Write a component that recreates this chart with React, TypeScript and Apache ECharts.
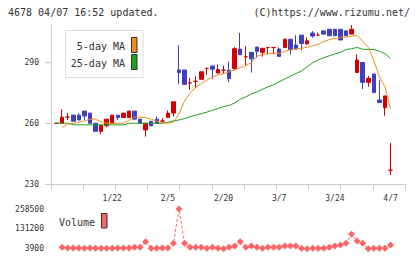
import React, { useEffect, useRef } from "react";
import * as echarts from "echarts";

const dates = ["1/7","1/8","1/9","1/10","1/14","1/15","1/16","1/17","1/20","1/21","1/22","1/23","1/24","1/27","1/28","1/29","1/30","1/31","2/3","2/4","2/5","2/6","2/7","2/10","2/12","2/13","2/14","2/17","2/18","2/19","2/20","2/21","2/25","2/26","2/27","2/28","3/3","3/4","3/5","3/6","3/7","3/10","3/11","3/12","3/13","3/14","3/17","3/18","3/19","3/21","3/24","3/25","3/26","3/27","3/28","3/31","4/1","4/2","4/3","4/4","4/7"];

const opens = [260,260,263,264,264,266,265,260,256,258.8,260,264,262.8,262.8,266,262,256.7,261,262,261.1,262.8,265,286.3,286.3,279.9,280.7,281.7,287.1,288.3,284.8,286.2,286.2,287,296.6,292.8,295,297.6,295,297.4,297.4,296.6,297.4,301.5,298.6,303.5,299.1,304.5,303.5,305.6,306.4,306.4,306.4,305.6,304,285,290,280.2,284.3,271.5,267.7,236.8];
const closes = [260,263,263,261,261.6,263.6,260,256,259,262,264,262.8,265,266,262,260,260,258.7,260,261.1,265,270.6,285,279.2,279.9,280.7,285.4,287.1,286.7,286.5,286.2,282,296.8,293.8,292.8,291.8,295.5,297,297.4,297.4,293,301.5,296.3,296.6,299.4,300.7,303.1,303.5,304,303.2,303.2,301.1,303.2,306.4,291.2,280.2,282.2,275.1,270.2,273.5,236.8];
const lows = [260,260,261.6,261,261.6,261.6,260,256,254.7,258,260,261.6,262.8,262.8,262,260,253.4,258.7,260,260,262.8,263.3,279.2,279.2,276.5,277.4,281.7,283.8,281.9,284.8,284.5,280.2,286,293.8,288.5,285,292.5,292.9,294,294,293,297.4,294,296.6,296,299.1,302.2,303.5,304,303.2,303.2,301.1,303.2,304,285,276.9,278,275.1,270.2,263.7,234.5];
const highs = [260,267,265,264,265,266,265,260,259,262,264,264,265,266,266,262,260,261,263.3,262.5,266.3,270.6,298.6,286.3,282.4,283.2,285.4,287.1,288.3,289,288.5,290.5,297.6,304.6,298,295,297.6,297,297.4,297.4,297.4,301.5,301.5,303.5,303.5,302.4,305.5,304.8,305.6,306.4,306.4,306.4,305.6,308.5,294,290,283.3,284.3,281.4,273.5,250.3];

const volumes = [null,12900,9000,9000,9000,6500,9000,6500,6500,6500,6500,9000,9000,9000,12900,12900,48000,6500,6500,9000,9000,38500,258500,38500,12900,12900,12900,7000,12900,7000,3900,12900,21000,48000,12900,21000,12900,7000,12900,12900,12900,21000,21000,21000,6500,3900,6500,6500,6500,12900,21000,27600,38500,96000,53000,38500,3900,6500,6500,6500,27600];

const ma5 = [null,258,259.5,260,260.5,261.1,262,262,260.8,260,260,260,260,261.5,263,263,262.8,262,261,260.3,260,260.5,264.6,271,275,277.6,279.6,281.3,282.7,284,284.5,285.4,286.3,287.5,288.5,290,293,294,294.3,294.5,294.5,295.5,296.3,296.7,297,297.5,298.2,299,300.3,301.3,301.9,302.2,302.6,303,303.3,300.5,297.5,291,283,278,267];
const ma25 = [260,260,260,259.3,259.2,259.2,259.2,259.2,259.2,259.2,259.2,259.2,259.2,260,260,260,260,260,260,260,260.5,261.2,261.6,262.3,263.2,264,264.7,265.5,266.4,267.3,268.2,268.8,270,271.8,273,274.5,275.5,276.8,278,279,280.5,281.8,283.3,284.5,285.8,287.8,289.8,291.3,292.3,293.3,294.2,295,296.4,296.8,297.4,296.5,296.5,296.4,295.6,294.3,292];

const priceTicks = [230, 260, 290];
const volumeTicks = [3900, 131200, 258500];
const dateLabelIndex = [10, 20, 30, 40, 50, 60];

const RED = "#d40000";
const BLUE = "#3f3fbf";
const ORANGE = "#f08c1e";
const GREEN = "#1ea31e";
const VOL = "#ff6464";
const AXIS = "#cccccc";
const TEXT = "#333333";
const MONO = '"DejaVu Sans Mono", monospace';

const X_MIN = -1;
const X_MAX = 62.6;

export default function App() {
  const ref = useRef<HTMLDivElement>(null);

  useEffect(() => {
    document.body.style.margin = "0";
    if (!ref.current) return;
    const chart = echarts.init(ref.current, null, { renderer: "svg" });

    const upData: number[][] = [];
    const downData: number[][] = [];
    dates.forEach((_, i) => {
      const item = [i, opens[i], closes[i], lows[i], highs[i]];
      if (closes[i] >= opens[i]) upData.push(item);
      else downData.push(item);
    });
    const toPairs = (arr: (number | null)[]) =>
      arr.map((v, i) => (v == null ? null : [i, v])).filter((p) => p !== null);

    const xTickValues = Array.from({ length: 12 }, (_, k) => X_MIN + (k * (X_MAX - X_MIN)) / 11);

    const labelStyle = { fontSize: 8, fontFamily: MONO, color: TEXT };

    const option: any = {
      animation: false,
      backgroundColor: "#ffffff",
      grid: [
        { left: 51, right: 15, top: 25, height: 159 },
        { left: 51, right: 15, top: 209, height: 39.7 },
      ],
      xAxis: [
        {
          type: "value",
          gridIndex: 0,
          min: X_MIN,
          max: X_MAX,
          axisLine: { show: true, onZero: false, lineStyle: { color: AXIS, width: 1 } },
          axisTick: { show: true, length: 6, customValues: xTickValues, lineStyle: { color: AXIS } },
          axisLabel: {
            ...labelStyle,
            margin: 10,
            customValues: dateLabelIndex,
            formatter: (v: number) => dates[Math.round(v)] ?? "",
          },
          splitLine: { show: false },
        },
        { type: "value", gridIndex: 1, min: X_MIN, max: X_MAX, show: false, axisLine: { onZero: false } },
      ],
      yAxis: [
        {
          type: "value",
          gridIndex: 0,
          min: 230,
          max: 308.5,
          axisLine: { show: true, onZero: false, lineStyle: { color: AXIS, width: 1 } },
          axisTick: { show: true, length: 6, customValues: priceTicks, lineStyle: { color: AXIS } },
          axisLabel: { ...labelStyle, margin: 12, customValues: priceTicks, formatter: (v: number) => String(v) },
          splitLine: { show: false },
        },
        {
          type: "value",
          gridIndex: 1,
          min: 3900,
          max: 258500,
          axisLine: { show: false, onZero: false },
          axisTick: { show: false },
          axisLabel: { ...labelStyle, margin: 7, customValues: volumeTicks, formatter: (v: number) => String(Math.round(v)) },
          splitLine: { show: false },
        },
      ],
      series: [
        {
          type: "candlestick",
          layout: "horizontal",
          xAxisIndex: 0,
          yAxisIndex: 0,
          barWidth: 4,
          data: upData,
          itemStyle: {
            color: RED, color0: RED, borderColor: RED, borderColor0: RED, borderColorDoji: RED, borderWidth: 1,
          },
        },
        {
          type: "candlestick",
          layout: "horizontal",
          xAxisIndex: 0,
          yAxisIndex: 0,
          barWidth: 4,
          data: downData,
          itemStyle: {
            color: BLUE, color0: BLUE, borderColor: BLUE, borderColor0: BLUE, borderColorDoji: BLUE, borderWidth: 1,
          },
        },
        {
          type: "line",
          xAxisIndex: 0,
          yAxisIndex: 0,
          data: toPairs(ma25),
          showSymbol: false,
          symbol: "none",
          lineStyle: { color: GREEN, width: 1 },
        },
        {
          type: "line",
          xAxisIndex: 0,
          yAxisIndex: 0,
          data: toPairs(ma5),
          showSymbol: false,
          symbol: "none",
          lineStyle: { color: ORANGE, width: 1 },
        },
        {
          type: "line",
          xAxisIndex: 1,
          yAxisIndex: 1,
          data: toPairs(volumes),
          symbol: "diamond",
          symbolSize: [7, 7],
          itemStyle: { color: VOL },
          lineStyle: { color: VOL, width: 1, type: [3, 2] },
        },
      ],
      graphic: [
        {
          type: "text",
          x: 8,
          y: 12.5,
          style: { text: "4678 04/07 16:52 updated.", font: `10px ${MONO}`, fill: TEXT, textAlign: "left", textVerticalAlign: "middle" },
        },
        {
          type: "text",
          x: 410,
          y: 12.5,
          style: { text: "(C)https://www.rizumu.net/", font: `10px ${MONO}`, fill: TEXT, textAlign: "right", textVerticalAlign: "middle" },
        },
        {
          type: "rect",
          shape: { x: 65.5, y: 30.5, width: 77.5, height: 47 },
          style: { fill: "#ffffff", stroke: "#dddddd", lineWidth: 1 },
        },
        {
          type: "text",
          x: 125,
          y: 46,
          style: { text: "5-day MA", font: `10px ${MONO}`, fill: TEXT, textAlign: "right", textVerticalAlign: "middle" },
        },
        {
          type: "text",
          x: 125,
          y: 63,
          style: { text: "25-day MA", font: `10px ${MONO}`, fill: TEXT, textAlign: "right", textVerticalAlign: "middle" },
        },
        {
          type: "rect",
          shape: { x: 131.5, y: 37.5, width: 5.5, height: 15 },
          style: { fill: ORANGE, stroke: "#333333", lineWidth: 1 },
        },
        {
          type: "rect",
          shape: { x: 131.5, y: 54.5, width: 5.5, height: 15 },
          style: { fill: GREEN, stroke: "#333333", lineWidth: 1 },
        },
        {
          type: "text",
          x: 59,
          y: 222,
          style: { text: "Volume", font: `10px ${MONO}`, fill: TEXT, textAlign: "left", textVerticalAlign: "middle" },
        },
        {
          type: "rect",
          shape: { x: 101.5, y: 213.5, width: 5.5, height: 14.5 },
          style: { fill: VOL, stroke: "#333333", lineWidth: 1 },
        },
      ],
    };

    chart.setOption(option);
    return () => chart.dispose();
  }, []);

  return <div ref={ref} style={{ width: 420, height: 259 }} />;
}
